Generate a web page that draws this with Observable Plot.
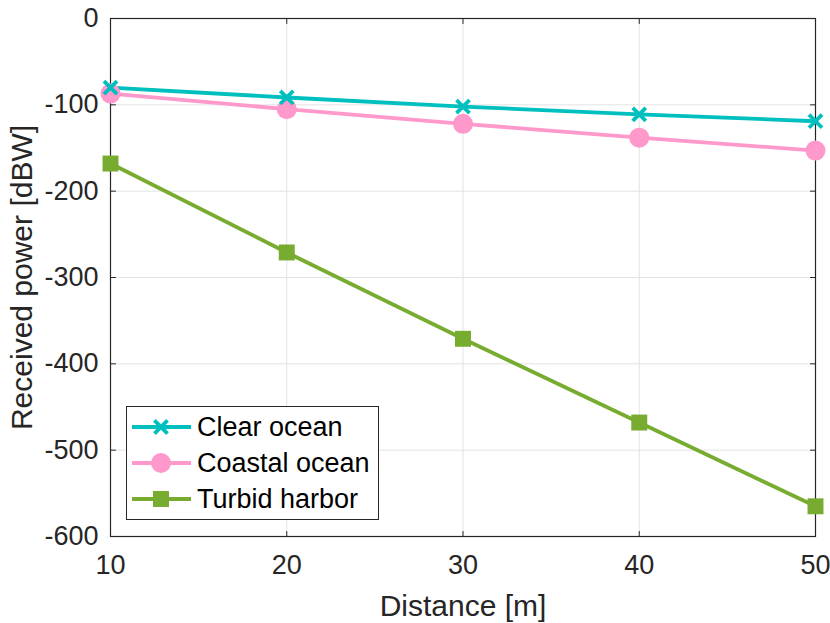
<!DOCTYPE html>
<html>
<head>
<meta charset="utf-8">
<script src="https://cdn.jsdelivr.net/npm/d3@7"></script>
<script src="https://cdn.jsdelivr.net/npm/@observablehq/plot@0.6"></script>
<style>
  body { margin: 0; background: #fff; }
  #wrap { position: relative; width: 830px; height: 623px; font-family: "Liberation Sans", Arial, Helvetica, sans-serif; }
  #legend { position: absolute; left: 126px; top: 406px; }
</style>
</head>
<body>
<div id="wrap"></div>
<script>
const distance = [10, 20, 30, 40, 50];
const clearOcean = [-80, -91.5, -102, -111, -119];
const coastalOcean = [-87, -105, -122, -138, -153];
const turbidHarbor = [-168, -271, -371, -468, -565];
const seriesNames = ["Clear ocean", "Coastal ocean", "Turbid harbor"];
const seriesColors = ["#00bfbf", "#ff99cc", "#77ac30"];
const xTicks = [10, 20, 30, 40, 50];
const yTicks = [0, -100, -200, -300, -400, -500, -600];

const seriesValues = [clearOcean, coastalOcean, turbidHarbor];
const rows = seriesNames.flatMap((name, i) => distance.map((d, j) => ({name, x: d, y: seriesValues[i][j]})));
const byName = n => rows.filter(r => r.name === n);

const tickShape = { draw(ctx, l) { ctx.moveTo(0, 0); ctx.lineTo(0, -l); } };
const axisColor = "#262626";

const chart = Plot.plot({
  width: 830,
  height: 623,
  marginLeft: 110,
  marginRight: 15,
  marginTop: 18,
  marginBottom: 87,
  style: { fontFamily: "Liberation Sans, Arial, Helvetica, sans-serif", fontSize: "27px", color: axisColor, background: "#fff" },
  x: { domain: [10, 50], ticks: xTicks },
  y: { domain: [-600, 0], ticks: yTicks },
  marks: [
    Plot.gridX(xTicks, { stroke: "#e3e3e3", strokeOpacity: 1, strokeWidth: 1 }),
    Plot.gridY(yTicks, { stroke: "#e3e3e3", strokeOpacity: 1, strokeWidth: 1 }),
    Plot.vector(xTicks, { x: d => d, frameAnchor: "bottom", length: 5, anchor: "start", rotate: 0, shape: tickShape, stroke: axisColor, strokeWidth: 1 }),
    Plot.vector(xTicks, { x: d => d, frameAnchor: "top", length: 5, anchor: "start", rotate: 180, shape: tickShape, stroke: axisColor, strokeWidth: 1 }),
    Plot.vector(yTicks, { y: d => d, frameAnchor: "left", length: 5, anchor: "start", rotate: 90, shape: tickShape, stroke: axisColor, strokeWidth: 1 }),
    Plot.vector(yTicks, { y: d => d, frameAnchor: "right", length: 5, anchor: "start", rotate: -90, shape: tickShape, stroke: axisColor, strokeWidth: 1 }),
    Plot.frame({ stroke: axisColor, strokeWidth: 1.2 }),
    Plot.axisX(xTicks, { tickSize: 0, tickPadding: 18, fontSize: 27, fill: axisColor, label: "Distance [m]", labelAnchor: "center", labelOffset: 79, labelArrow: "none" }),
    Plot.axisY(yTicks, { tickSize: 0, tickPadding: 12, fontSize: 27, fill: axisColor, tickFormat: d => d < 0 ? "-" + Math.abs(d) : String(d), label: "Received power [dBW]", labelAnchor: "center", labelOffset: 100, labelArrow: "none" }),
    Plot.line(byName("Turbid harbor"), { x: "x", y: "y", stroke: seriesColors[2], strokeWidth: 3.8 }),
    Plot.line(byName("Coastal ocean"), { x: "x", y: "y", stroke: seriesColors[1], strokeWidth: 3.8 }),
    Plot.line(byName("Clear ocean"), { x: "x", y: "y", stroke: seriesColors[0], strokeWidth: 3.8 }),
    Plot.dot(byName("Turbid harbor"), { x: "x", y: "y", symbol: "square", r: 9, fill: seriesColors[2], stroke: "none" }),
    Plot.dot(byName("Coastal ocean"), { x: "x", y: "y", symbol: "circle", r: 10, fill: seriesColors[1], stroke: "none" }),
    Plot.dot(byName("Clear ocean"), { x: "x", y: "y", symbol: "times", r: 6, stroke: seriesColors[0], strokeWidth: 3.8 })
  ]
});

const wrap = document.getElementById("wrap");
wrap.appendChild(chart);
d3.select(chart).selectAll("[aria-label='x-axis label'] text, [aria-label='y-axis label'] text").style("font-size", "30px");

// Legend overlay
const lw = 253, lh = 114;
const leg = d3.select(wrap).append("svg").attr("id", "legend").attr("width", lw).attr("height", lh)
  .style("font-family", "Liberation Sans, Arial, Helvetica, sans-serif");
leg.append("rect").attr("x", 0.5).attr("y", 0.5).attr("width", lw - 1).attr("height", lh - 1).attr("fill", "#fff").attr("stroke", axisColor).attr("stroke-width", 1);
const symbols = [d3.symbolTimes, d3.symbolCircle, d3.symbolSquare];
const sizes = [Math.PI * 36, Math.PI * 100, Math.PI * 81];
seriesNames.forEach((name, i) => {
  const cy = 21 + i * 36;
  leg.append("line").attr("x1", 6).attr("x2", 65).attr("y1", cy).attr("y2", cy).attr("stroke", seriesColors[i]).attr("stroke-width", 3.8);
  const p = leg.append("path").attr("d", d3.symbol(symbols[i], sizes[i])()).attr("transform", `translate(35,${cy})`);
  if (i === 0) p.attr("fill", "none").attr("stroke", seriesColors[i]).attr("stroke-width", 3.8);
  else p.attr("fill", seriesColors[i]);
  leg.append("text").attr("x", 71).attr("y", cy).attr("dy", "0.35em").attr("font-size", 27).attr("fill", "#000").text(name);
});
</script>
</body>
</html>
